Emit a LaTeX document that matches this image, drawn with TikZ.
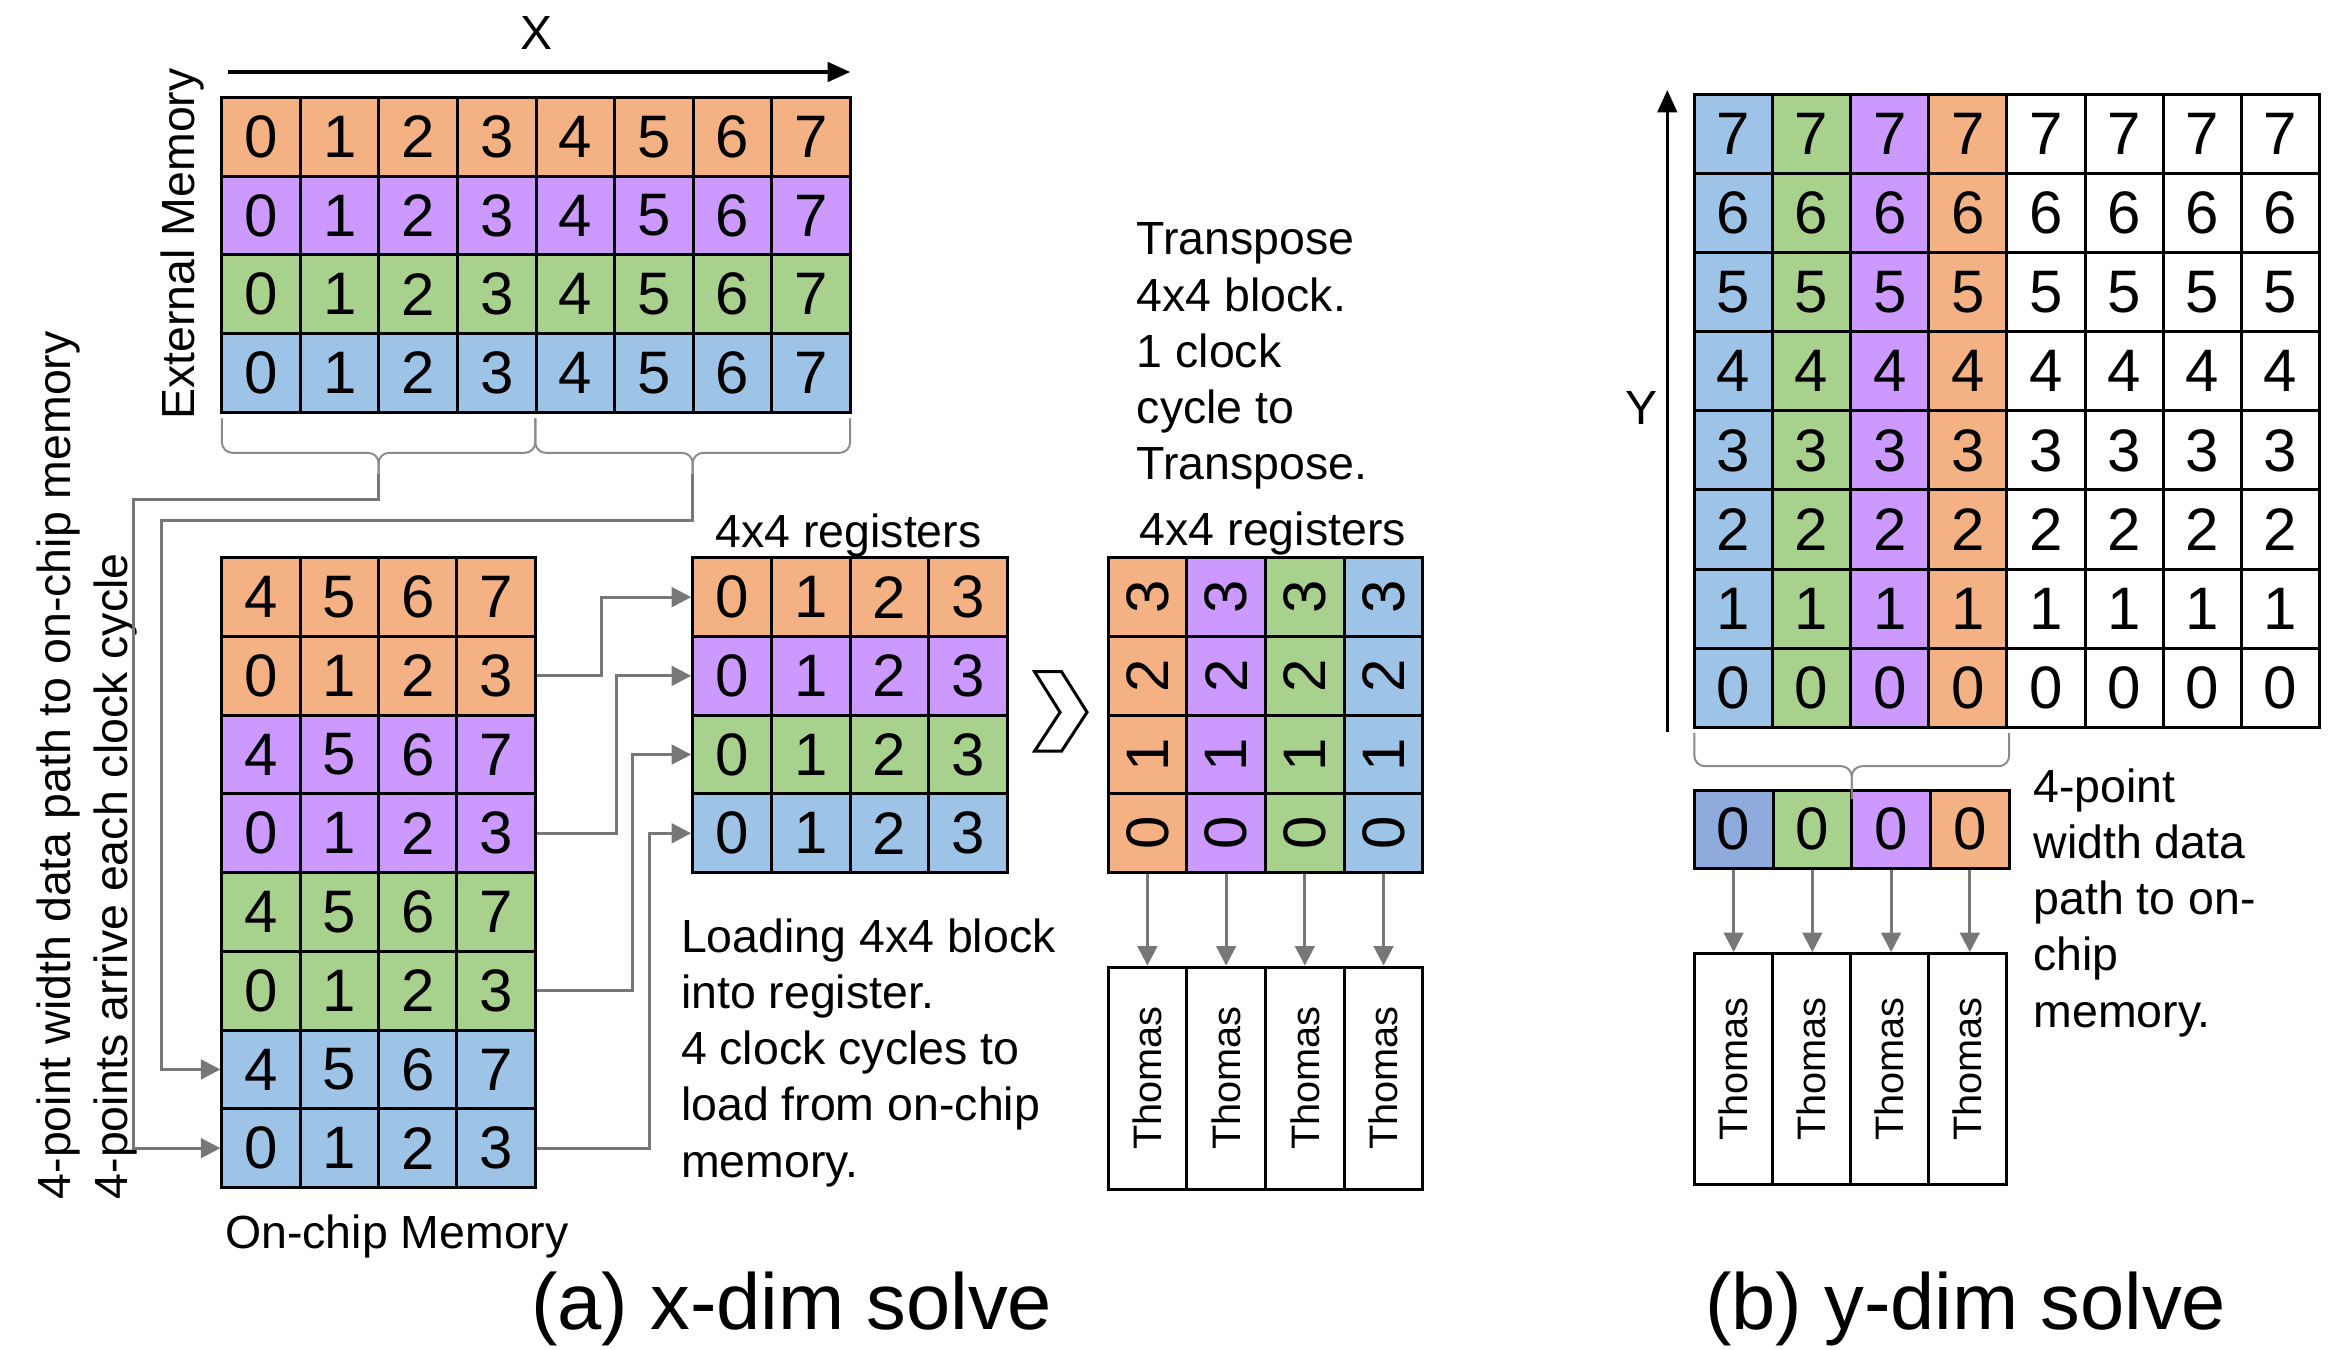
\documentclass[tikz,border=0pt]{standalone}
\usepackage{fontspec}
\usepackage{graphicx}
\setmainfont{Liberation Sans}
\usetikzlibrary{arrows.meta}
\definecolor{cor}{HTML}{F4B183}
\definecolor{cpu}{HTML}{CC99FF}
\definecolor{cgr}{HTML}{A9D18E}
\definecolor{cbl}{HTML}{9DC3E6}
\definecolor{cbd}{HTML}{8FAADC}
\definecolor{cgy}{HTML}{777777}
\definecolor{cbr}{HTML}{8A8A8A}
\newcommand\fDig{\fontsize{40}{48}\selectfont}
\newcommand\fBody{\fontsize{31}{37.5}\selectfont}
\newcommand\fThom{\fontsize{26.5}{32}\selectfont}
\newcommand\fAxis{\fontsize{32}{38}\selectfont}
\newcommand\fCap{\fontsize{53}{64}\selectfont}
\begin{document}
\begin{tikzpicture}[x=1pt,y=-1pt,
  cell/.style={draw=black, line width=2pt, inner sep=0pt, font=\fDig},
  conn/.style={draw=cgy, line width=2pt, -{Triangle[length=13pt,width=13pt]}},
  axisarrow/.style={draw=black, line width=2.2pt, -{Triangle[length=15pt,width=13pt]}},
  brc/.style={draw=cbr, line width=1.3pt, rounded corners=7pt},
  txt/.style={inner sep=0pt, font=\fBody, anchor=base west},
  lbl/.style={inner sep=0pt, font=\fAxis},
  thomas/.style={draw=black, line width=2pt, inner sep=0pt, font=\fThom, fill=white},
]
\useasboundingbox (0,0) rectangle (1568,900);
\fill[white] (0,0) rectangle (1568,900);

% ---------- (a) external memory ----------
\node[lbl] (xlab) at (358,22) {X};
\coordinate (xa) at (152,48);
\coordinate (xb) at (567,48);
\draw[axisarrow] (xa) -- (xb);
\node[txt, rotate=90] (extlab) at (130,280) {External Memory};
\foreach \r/\col in {1/cor,2/cpu,3/cgr,4/cbl}{
  \foreach \c in {0,...,7}{
    \node[cell, fill=\col, minimum width=52.375pt, minimum height=52.5pt]
      (em-\r-\c) at ({148+52.375*(\c+0.5)},{65+52.5*(\r-0.5)}) {\c};
  }
}
% braces
\draw[brc] (148,279) -- (148,302) -- (252.5,302) -- (252.5,318);
\draw[brc] (357,279) -- (357,302) -- (252.5,302) -- (252.5,318);
\draw[brc] (357,279) -- (357,302) -- (462,302) -- (462,318);
\draw[brc] (567,279) -- (567,302) -- (462,302) -- (462,318);
\coordinate (bt1) at (252.5,316);
\coordinate (bt2) at (462,316);
\coordinate (v1) at (89,333);
\coordinate (v2) at (108,347);

% ---------- on-chip memory ----------
\foreach \r/\col/\o in {1/cor/4,2/cor/0,3/cpu/4,4/cpu/0,5/cgr/4,6/cgr/0,7/cbl/4,8/cbl/0}{
  \foreach \c in {0,...,3}{
    \pgfmathtruncatemacro\v{\o+\c}
    \node[cell, fill=\col, minimum width=52.25pt, minimum height=52.5pt]
      (om-\r-\c) at ({148+52.25*(\c+0.5)},{372+52.5*(\r-0.5)}) {\v};
  }
}
\node[txt] (onlab) at (150,833) {On-chip Memory};
\node[txt, rotate=90] (side1) at (47,800) {4-point width data path to on-chip memory};
\node[txt, rotate=90] (side2) at (85,800) {4-points arrive each clock cycle};
\draw[conn] (bt1) |- (v1) |- (om-8-0.west);
\draw[conn] (bt2) |- (v2) |- (om-7-0.west);

% ---------- registers ----------
\node[txt] (reglab1) at (477,365) {4x4 registers};
\foreach \r/\col in {1/cor,2/cpu,3/cgr,4/cbl}{
  \foreach \c in {0,...,3}{
    \node[cell, fill=\col, minimum width=52.5pt, minimum height=52.5pt]
      (reg-\r-\c) at ({462+52.5*(\c+0.5)},{372+52.5*(\r-0.5)}) {\c};
  }
}
\coordinate (k1) at (401,0);
\coordinate (k2) at (411,0);
\coordinate (k3) at (422,0);
\coordinate (k4) at (433,0);
\draw[conn] (om-2-3.east) -| (k1 |- reg-1-0.west) -- (reg-1-0.west);
\draw[conn] (om-4-3.east) -| (k2 |- reg-2-0.west) -- (reg-2-0.west);
\draw[conn] (om-6-3.east) -| (k3 |- reg-3-0.west) -- (reg-3-0.west);
\draw[conn] (om-8-3.east) -| (k4 |- reg-4-0.west) -- (reg-4-0.west);

\foreach \t [count=\i from 0] in {Loading 4x4 block, into register., 4 clock cycles to, load from on-chip, memory.}{
  \node[txt] (load\i) at (454,{635+37.5*\i}) {\t};
}

% chevron
\draw[line width=2pt, fill=white, line join=miter] (690,448) -- (708,448) -- (725,475) -- (708,501) -- (690,501) -- (707,475) -- cycle;

\foreach \t [count=\i from 0] in {Transpose, 4x4 block., 1 clock, cycle to, Transpose.}{
  \node[txt] (trt\i) at (758,{170+37.5*\i}) {\t};
}
\node[txt] (reglab2) at (760,364) {4x4 registers};
\foreach \c/\col in {0/cor,1/cpu,2/cgr,3/cbl}{
  \foreach \r in {1,...,4}{
    \pgfmathtruncatemacro\v{4-\r}
    \node[cell, fill=\col, minimum width=52.5pt, minimum height=52.5pt]
      (tr-\r-\c) at ({739+52.5*(\c+0.5)},{372+52.5*(\r-0.5)}) {\rotatebox{90}{\v}};
  }
}
\foreach \c in {0,...,3}{
  \node[thomas, minimum width=52.5pt, minimum height=148pt]
    (th-\c) at ({739+52.5*(\c+0.5)},719) {\rotatebox{90}{Thomas}};
  \draw[conn] (tr-4-\c.south) -- (th-\c.north);
}
\node[inner sep=0pt, font=\fCap] (capa) at (528,873) {(a) x-dim solve};

% ---------- (b) ----------
\coordinate (ya) at (1112,488);
\coordinate (yb) at (1112,60);
\draw[axisarrow] (ya) -- (yb);
\node[lbl] (ylab) at (1095,272) {Y};
\foreach \c/\col in {0/cbl,1/cgr,2/cpu,3/cor,4/white,5/white,6/white,7/white}{
  \foreach \r in {1,...,8}{
    \pgfmathtruncatemacro\v{8-\r}
    \node[cell, fill=\col, minimum width=52.125pt, minimum height=52.75pt]
      (gb-\r-\c) at ({1130+52.125*(\c+0.5)},{63+52.75*(\r-0.5)}) {\v};
  }
}
\foreach \c/\col in {0/cbd,1/cgr,2/cpu,3/cor}{
  \node[cell, fill=\col, minimum width=52.5pt, minimum height=52pt]
    (sr-\c) at ({1130+52.5*(\c+0.5)},553) {0};
  \node[thomas, minimum width=52pt, minimum height=154pt]
    (tb-\c) at ({1130+52*(\c+0.5)},713) {\rotatebox{90}{Thomas}};
  \draw[conn] (sr-\c.south) -- (sr-\c.south |- tb-\c.north);
}
\draw[brc] (1130,489) -- (1130,511) -- (1235,511) -- (1235,533);
\draw[brc] (1340,489) -- (1340,511) -- (1235,511) -- (1235,533);
\foreach \t [count=\i from 0] in {4-point, width data, path to on-, chip, memory.}{
  \node[txt] (bt\i) at (1356,{535+37.5*\i}) {\t};
}
\node[inner sep=0pt, font=\fCap] (capb) at (1311,873) {(b) y-dim solve};
\end{tikzpicture}
\end{document}
